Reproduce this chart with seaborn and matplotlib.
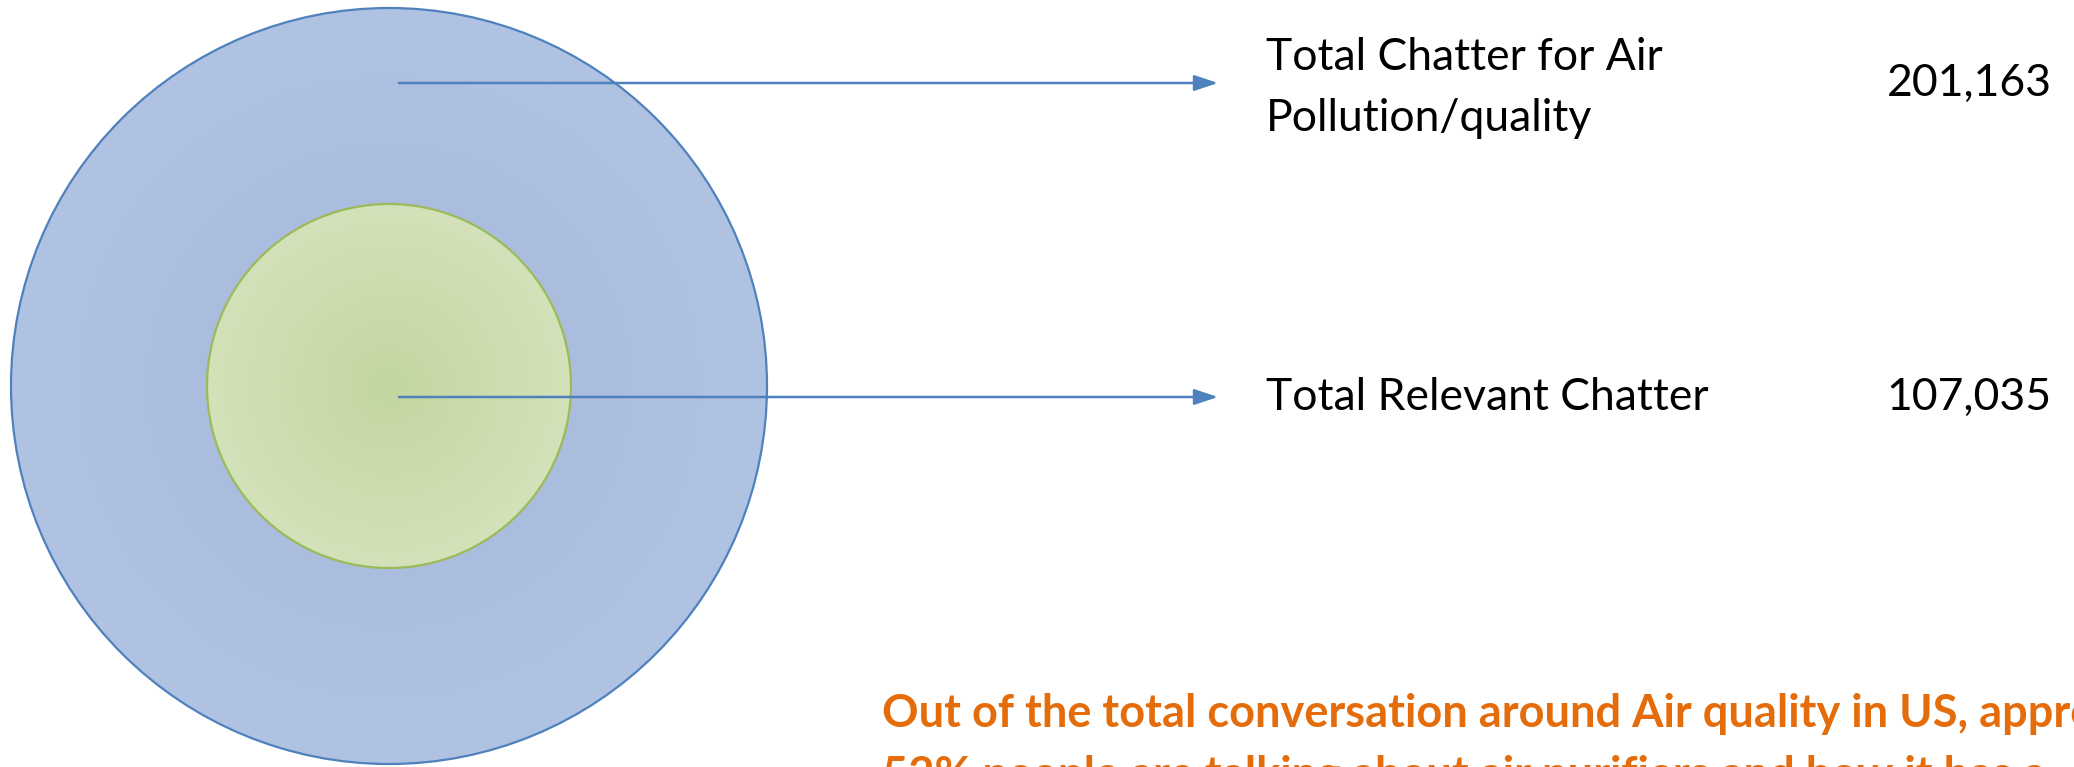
import numpy as np
import matplotlib
matplotlib.use("Agg")
import matplotlib.pyplot as plt
import seaborn as sns
from matplotlib.patches import Circle
from matplotlib.colors import LinearSegmentedColormap

# ---- data ----
labels = ["Total Chatter for Air\nPollution/quality", "Total Relevant Chatter"]
values = [201163, 107035]
note_lines = [
    "Out of the total conversation around Air quality in US, approximately",
    "52% people are talking about air purifiers and how it has a",
]

sns.set_theme(style="white")
plt.rcParams['font.family'] = ['Lato', 'DejaVu Sans']

W, H = 2074, 767
fig = plt.figure(figsize=(W / 100, H / 100), dpi=100)
ax = fig.add_axes([0, 0, 1, 1])
ax.set_xlim(0, W)
ax.set_ylim(H, 0)
ax.set_aspect('equal')
ax.axis('off')

# layout (pixels)
cx, cy = 389, 386
radii = [378, 182]
fills = [("#A5B8DA", "#B0C3E3"), ("#C2D6A0", "#D3E2B9")]
edges = ["#4F81BD", "#9BBB59"]
line_y = [83, 397]
text_dy = [5, 0]
arrow_x0, arrow_x1 = 399, 1218
label_x = 1266
value_x = 2052

for r, (c_in, c_out), ec in zip(radii, fills, edges):
    n = 400
    xs = np.linspace(cx - r, cx + r, n)
    ys = np.linspace(cy - r, cy + r, n)
    X, Y = np.meshgrid(xs, ys)
    D = np.sqrt((X - cx) ** 2 + (Y - cy) ** 2) / r
    cmap = LinearSegmentedColormap.from_list("g", [c_in, c_out])
    im = ax.imshow(np.clip(D, 0, 1), cmap=cmap, vmin=0, vmax=1,
                   extent=[cx - r, cx + r, cy + r, cy - r], origin='upper',
                   interpolation='bilinear', zorder=1)
    clip = Circle((cx, cy), r, transform=ax.transData, facecolor='none', edgecolor='none')
    ax.add_patch(clip)
    im.set_clip_path(clip)
    ax.add_patch(Circle((cx, cy), r, facecolor='none', edgecolor=ec, lw=1.6, zorder=2))

for lab, val, y, dy in zip(labels, values, line_y, text_dy):
    ax.annotate("", xy=(arrow_x1, y), xytext=(arrow_x0, y),
                arrowprops=dict(arrowstyle="-|>,head_length=1.2,head_width=0.4",
                                color="#4F81BD", lw=1.8, shrinkA=0, shrinkB=0),
                zorder=3)
    ax.text(label_x, y + dy, lab, fontsize=32, va='center', ha='left',
            color='black', linespacing=1.58)
    ax.text(value_x, y, f"{val:,}", fontsize=32, va='center', ha='right', color='black')

note_y = [714, 776]
for line, y in zip(note_lines, note_y):
    ax.text(882, y, line, fontsize=32.5, fontweight='bold', color="#E46C0A",
            va='center', ha='left', clip_on=False)

fig.savefig("out.png", dpi=100)
